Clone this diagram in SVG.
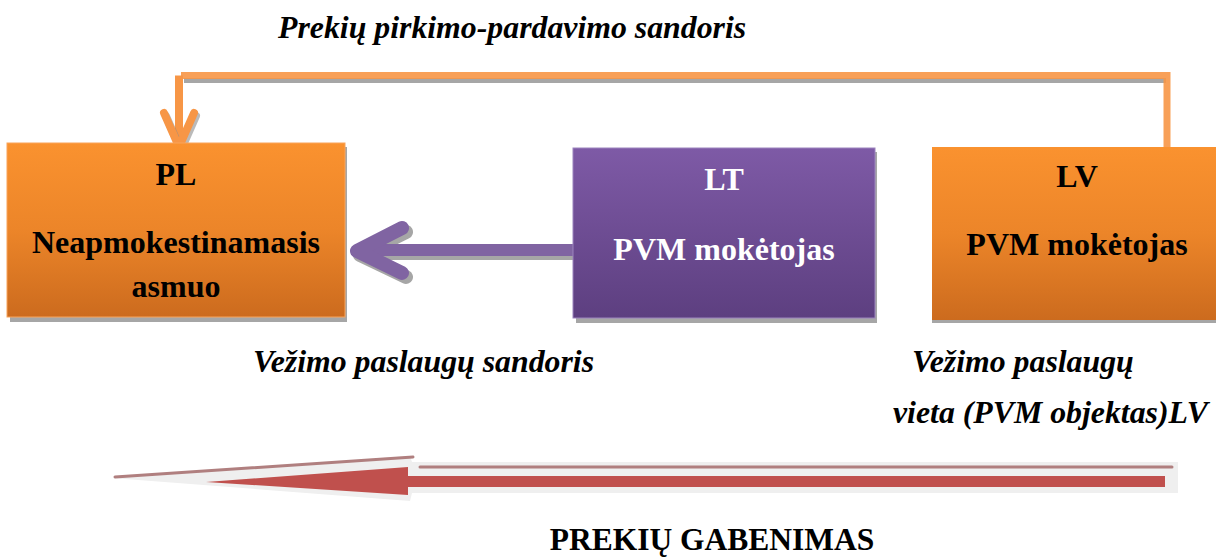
<svg xmlns="http://www.w3.org/2000/svg" width="1216" height="558" viewBox="0 0 1216 558">
<defs>
<linearGradient id="gOr" x1="0" y1="0" x2="0" y2="1">
<stop offset="0" stop-color="#FA922F"/>
<stop offset="0.5" stop-color="#EC8529"/>
<stop offset="1" stop-color="#CC6B1E"/>
</linearGradient>
<linearGradient id="gPu" x1="0" y1="0" x2="0" y2="1">
<stop offset="0" stop-color="#7E5AA6"/>
<stop offset="1" stop-color="#5D3F80"/>
</linearGradient>
<style>
.t{font-family:"Liberation Serif","Times New Roman",serif;font-weight:bold;font-size:32px;text-anchor:middle}
.i{font-family:"Liberation Serif","Times New Roman",serif;font-weight:bold;font-style:italic;font-size:31.8px}
.shadow{fill:#A6A6A6}
</style>
</defs>

<g id="connectors">
<path d="M184 80.5 H1166" stroke="#A6A6A6" stroke-width="5" fill="none"/>
<path d="M181 75.5 H1167 V150" stroke="#F79646" stroke-opacity="0.9" stroke-width="7" fill="none"/>
<path d="M179 75.5 V148" stroke="#F79646" stroke-width="8" fill="none"/>
<path d="M166 116 L181 150 L196 116" stroke="#8C8C8C" stroke-opacity="0.6" stroke-width="8" fill="none" stroke-linecap="round" stroke-linejoin="round"/>
<path d="M164 113 L179 147 L194 113" stroke="#F79646" stroke-width="8" fill="none" stroke-linecap="round" stroke-linejoin="round"/>
<path d="M586 254 H364" stroke="#A6A6A6" stroke-width="12" fill="none"/>
<path d="M406 232 L360 255 L406 277" stroke="#A6A6A6" stroke-width="14" fill="none" stroke-linecap="round" stroke-linejoin="round"/>
<path d="M584 250 H362" stroke="#8064A2" stroke-width="12" fill="none"/>
<path d="M402 228 L357 251 L402 273" stroke="#8064A2" stroke-width="14" fill="none" stroke-linecap="round" stroke-linejoin="round"/>
<path d="M112 478 L410 456 L412 462 H1178 V493 H412 L410 501 Z" fill="#EFEFEF"/>
<path d="M115 477 L413 457" stroke="#B07F7F" stroke-width="3" fill="none" stroke-linecap="round"/>
<path d="M420 467 H1172" stroke="#B07F7F" stroke-width="3" fill="none" stroke-linecap="round"/>
<path d="M1165 476 H408 V467 L206 482 L408 495 V487 H1165 Z" fill="#C0504D"/>
</g>

<g id="node-pl">
<rect x="10" y="147" width="337" height="175" class="shadow"/>
<rect x="7" y="143" width="338" height="174" fill="url(#gOr)" stroke="#F9A45A" stroke-width="1"/>
<text class="t" x="176" y="185">PL</text>
<text class="t" x="176" y="253">Neapmokestinamasis</text>
<text class="t" x="176" y="297">asmuo</text>
</g>

<g id="node-lt">
<rect x="576" y="152" width="301" height="171" class="shadow"/>
<rect x="573" y="148" width="302" height="170" fill="url(#gPu)" stroke="#9C84BE" stroke-width="1"/>
<text class="t" x="724" y="190" fill="#FFFFFF">LT</text>
<text class="t" x="724" y="260" fill="#FFFFFF">PVM mokėtojas</text>
</g>

<g id="node-lv">
<rect x="932" y="150" width="284" height="173" class="shadow"/>
<rect x="932" y="147" width="284" height="173" fill="url(#gOr)"/>
<text class="t" x="1077" y="187">LV</text>
<text class="t" x="1077" y="255">PVM mokėtojas</text>
</g>

<g id="labels">
<text class="i" x="278" y="38">Prekių pirkimo-pardavimo sandoris</text>
<text class="i" x="253" y="372">Vežimo paslaugų sandoris</text>
<text class="i" x="912" y="372">Vežimo paslaugų</text>
<text class="i" x="893" y="423">vieta (PVM objektas)LV</text>
<text class="t" x="712" y="550" style="font-size:31.5px">PREKIŲ GABENIMAS</text>
</g>
</svg>
